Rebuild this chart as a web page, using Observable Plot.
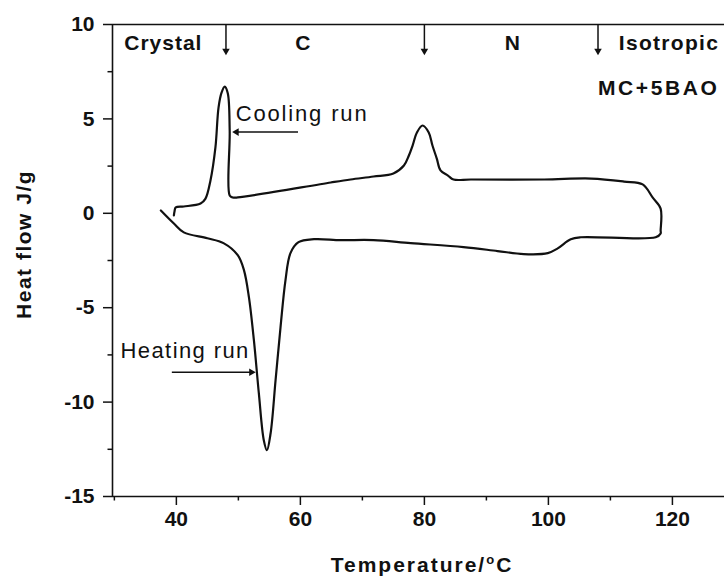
<!DOCTYPE html>
<html><head><meta charset="utf-8">
<script src="https://cdn.jsdelivr.net/npm/d3@7"></script>
<script src="https://cdn.jsdelivr.net/npm/@observablehq/plot@0.6"></script>
<style>body{margin:0;background:#fff;} #chart{width:724px;height:578px;overflow:hidden;}</style>
</head><body><div id="chart"></div>
<script>
// Heating run (lower branch), then cooling run (upper branch, returning left)
const heatingT = [37.5, 39.6, 41.2, 45.0, 47.6, 49.9, 50.9, 51.7, 52.5, 53.3, 54.1, 54.6, 55.2, 56.0, 56.8, 57.6, 58.4, 59.7, 62.2, 66.5, 71.8, 77.8, 86.3, 91.8, 96.0, 99.9, 101.5, 103.6, 105.2, 117.3, 118.1, 118.1];
const heatingV = [0.15, -0.54, -1.01, -1.32, -1.58, -2.22, -3.01, -4.44, -6.71, -9.53, -12.02, -12.55, -11.65, -8.84, -6.03, -3.54, -2.11, -1.53, -1.37, -1.42, -1.42, -1.58, -1.79, -2.0, -2.16, -2.11, -1.86, -1.38, -1.27, -1.27, -1.07, -0.91];
const coolingT = [118.1, 116.8, 115.2, 112.2, 106.9, 99.3, 87.5, 84.7, 83.8, 82.6, 82.0, 81.3, 80.7, 79.7, 78.8, 78.1, 77.5, 76.7, 75.0, 71.8, 68.1, 64.9, 49.9, 49.1, 48.6, 48.6, 48.3, 47.8, 47.3, 46.8, 46.3, 45.5, 44.7, 43.9, 41.2, 39.9, 39.7, 39.6];
const coolingV = [0.25, 0.84, 1.53, 1.68, 1.84, 1.79, 1.79, 1.79, 2.0, 2.27, 2.9, 3.59, 4.28, 4.65, 4.28, 3.59, 3.06, 2.53, 2.11, 1.95, 1.79, 1.63, 0.84, 0.84, 0.94, 4.38, 6.34, 6.71, 6.4, 5.6, 3.49, 1.74, 0.78, 0.52, 0.36, 0.31, 0.1, -0.11];

const xTicks = [40, 60, 80, 100, 120];
const xMinor = [30, 50, 70, 90, 110];
const yTicks = [-15, -10, -5, 0, 5, 10];
const yMinor = [-12.5, -7.5, -2.5, 2.5, 7.5];

// phase annotations
const phaseNames = ["Crystal", "C", "N"];
const phaseT = [37.9, 60.4, 94.2];
const transitionT = [48, 80, 108];

const loop = heatingT.map((T, i) => ({T, v: heatingV[i]}))
  .concat(coolingT.map((T, i) => ({T, v: coolingV[i]})));

const ink = "#111";
const F = "'Liberation Sans', Arial, Helvetica, sans-serif";

const chart = Plot.plot({
  width: 724, height: 578,
  marginTop: 24, marginBottom: 82, marginLeft: 112, marginRight: 0,
  style: {fontFamily: F, fontSize: "21px", fontWeight: "bold", background: "white", color: ink, overflow: "hidden"},
  x: {domain: [29.7, 128.4]},
  y: {domain: [-15, 10]},
  marks: [
    Plot.axisX({ticks: xTicks, tickSize: 9, tickPadding: 6, tickFormat: d => String(d), label: null, strokeWidth: 1.5}),
    Plot.axisX({ticks: xMinor, tickSize: 4.5, text: null, label: null, strokeWidth: 1.5}),
    Plot.axisY({ticks: yTicks, tickSize: 9, tickPadding: 9, tickFormat: d => String(d), label: null, strokeWidth: 1.5}),
    Plot.axisY({ticks: yMinor, tickSize: 4.5, text: null, label: null, strokeWidth: 1.5}),
    Plot.ruleY([-15, 10], {stroke: ink, strokeWidth: 1.6}),
    Plot.ruleX([29.7], {stroke: ink, strokeWidth: 1.6}),
    Plot.line(loop, {x: "T", y: "v", curve: "catmull-rom", stroke: ink, strokeWidth: 2.2}),
    // transition arrows at top
    Plot.ruleX(transitionT, {y1: 10, y2: 8.5, stroke: ink, strokeWidth: 1.5}),
    Plot.dot(transitionT, {x: d => d, y: 8.6, symbol: "triangle", rotate: 180, r: 2.8, fill: ink, stroke: "none"}),
    Plot.text(phaseNames, {x: (d, i) => phaseT[i], y: 9.02, text: d => d, textAnchor: "middle", lineAnchor: "middle", fill: ink}),
    Plot.text(["Isotropic"], {x: 111.35, y: 9.02, text: d => d, textAnchor: "start", lineAnchor: "middle", fill: ink}),
    Plot.text(["MC+5BAO"], {x: 108, y: 6.63, text: d => d, textAnchor: "start", lineAnchor: "middle", fill: ink}),
    // cooling run label and arrow
    Plot.text(["Cooling run"], {x: 49.56, y: 5.26, text: d => d, textAnchor: "start", lineAnchor: "middle", fontWeight: "normal", fontSize: 22, fill: ink}),
    Plot.ruleY([4.3], {x1: 49.6, x2: 59.7, stroke: ink, strokeWidth: 1.5}),
    Plot.dot([4.3], {x: 49.7, y: d => d, symbol: "triangle", rotate: -90, r: 2.8, fill: ink, stroke: "none"}),
    // heating run label and arrow
    Plot.text(["Heating run"], {x: 31.0, y: -7.27, text: d => d, textAnchor: "start", lineAnchor: "middle", fontWeight: "normal", fontSize: 22, fill: ink}),
    Plot.ruleY([-8.42], {x1: 39.35, x2: 52.2, stroke: ink, strokeWidth: 1.5}),
    Plot.dot([-8.42], {x: 52.1, y: d => d, symbol: "triangle", rotate: 90, r: 2.8, fill: ink, stroke: "none"}),
    // y axis title
    Plot.text(["Heat flow J/g"], {frameAnchor: "left", y: -1.65, dx: -88.5, rotate: -90, text: d => d, textAnchor: "middle", lineAnchor: "middle", fill: ink})
  ]
});

document.getElementById("chart").appendChild(chart);

const svg = d3.select(chart);
const LS = {"Crystal": 1, "Isotropic": 1.3, "MC+5BAO": 2.6, "Cooling run": 1.85, "Heating run": 1.4, "Heat flow J/g": 1.5};
svg.selectAll("text").each(function () {
  const s = this.textContent;
  if (s in LS) this.setAttribute("letter-spacing", LS[s]);
});

// x axis title with superscript
const xs = chart.scale("x"), ys = chart.scale("y");
const t = svg.append("text")
  .attr("x", xs.apply(79.7)).attr("y", ys.apply(-15) + 76)
  .attr("text-anchor", "middle").attr("fill", ink)
  .attr("font-size", 21).attr("font-weight", "bold").attr("letter-spacing", 2);
t.append("tspan").text("Temperature/");
t.append("tspan").attr("font-size", 13).attr("dy", -8).text("o");
t.append("tspan").attr("dy", 8).text("C");
</script>
</body></html>
